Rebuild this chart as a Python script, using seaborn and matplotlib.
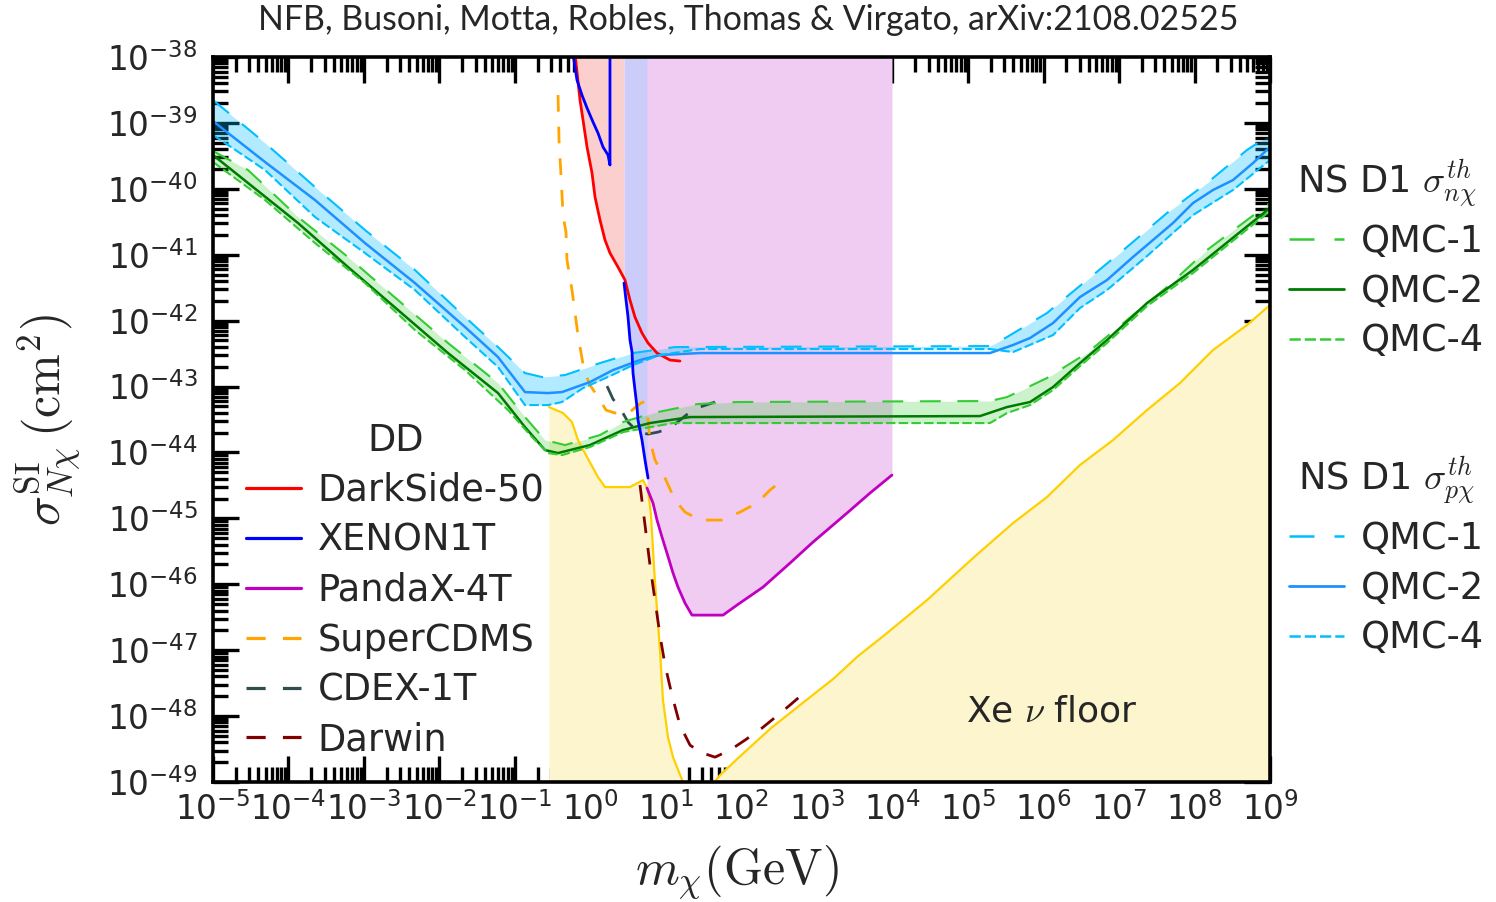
import numpy as np
import matplotlib
matplotlib.use("Agg")
import matplotlib.pyplot as plt
import seaborn as sns
from matplotlib.lines import Line2D
from matplotlib.ticker import LogLocator, FixedLocator, NullFormatter

# ---------------- data (log10 m [GeV], log10 sigma [cm^2]) ----------------
darkside_logm = [-0.205, -0.139, -0.099, -0.046, 0.020, 0.060, 0.126, 0.192, 0.258, 0.364,
                 0.457, 0.523, 0.589, 0.682, 0.762, 0.881, 1.053, 1.185]
darkside_logs = [-37.95, -38.653, -38.956, -39.366, -39.760, -40.125, -40.474, -40.777, -40.974, -41.187,
                 -41.384, -41.688, -41.946, -42.188, -42.340, -42.492, -42.598, -42.613]

xenon_logm = [0.444, 0.497, 0.523, 0.550, 0.563, 0.589, 0.616, 0.629, 0.682, 0.722, 0.762]
xenon_logs = [-41.430, -41.946, -42.295, -42.477, -42.795, -43.053, -43.311, -43.509, -43.812, -44.115, -44.389]

xenon_low_logm = [-0.232, -0.179, -0.113, -0.046, 0.033, 0.099, 0.166, 0.232, 0.258, 0.258]
xenon_low_logs = [-37.95, -38.349, -38.577, -38.774, -38.986, -39.153, -39.366, -39.487, -39.639, -37.95]

pandax_logm = [0.748, 0.828, 0.881, 0.947, 1.013, 1.093, 1.159, 1.252, 1.344, 1.755, 1.940, 2.285,
               2.642, 2.947, 3.397, 3.702, 3.993]
pandax_logs = [-44.540, -44.768, -45.026, -45.284, -45.527, -45.830, -46.043, -46.286, -46.468, -46.468,
               -46.316, -46.043, -45.679, -45.360, -44.920, -44.616, -44.343]

supercdms_logm = [-0.430, -0.417, -0.391, -0.364, -0.325, -0.311, -0.245, -0.166, -0.086, -0.007, 0.126,
                  0.205, 0.324, 0.523, 0.629, 0.695, 0.748, 0.788, 0.854, 0.987, 1.119, 1.252, 1.450,
                  1.742, 1.980, 2.205, 2.377, 2.576]
supercdms_logs = [-38.577, -39.260, -39.791, -40.398, -40.656, -41.081, -41.536, -42.219, -42.750, -42.977,
                  -43.205, -43.357, -43.402, -43.387, -43.281, -43.235, -43.357, -43.812, -44.115, -44.389,
                  -44.723, -44.905, -45.026, -45.026, -44.905, -44.768, -44.571, -44.389]

cdex_logm = [0.219, 0.298, 0.391, 0.497, 0.629, 0.762, 0.894, 1.053, 1.185, 1.318, 1.450, 1.649]
cdex_logs = [-42.993, -43.190, -43.326, -43.539, -43.691, -43.721, -43.691, -43.630, -43.509, -43.387,
             -43.311, -43.235]

darwin_logm = [0.656, 0.722, 0.788, 0.854, 0.920, 0.987, 1.079, 1.185, 1.318, 1.450, 1.649, 1.848,
               2.046, 2.271, 2.483, 2.642, 2.841]
darwin_logs = [-44.495, -45.102, -45.709, -46.240, -46.771, -47.226, -47.682, -48.137, -48.440, -48.547,
               -48.623, -48.516, -48.365, -48.182, -47.985, -47.833, -47.636]

floor_logm = [-0.550, -0.364, -0.245, -0.166, -0.046, 0.099, 0.192, 0.523, 0.695, 0.762, 0.801, 0.841,
              0.881, 0.920, 0.960, 1.026, 1.093, 1.225, 1.450, 1.715, 1.954, 2.391, 2.775, 3.212, 3.543,
              3.927, 4.457, 5.066, 5.596, 6.046, 6.483, 6.921, 7.371, 7.808, 8.245, 8.695, 9.0]
floor_logs = [-43.311, -43.402, -43.539, -43.812, -44.070, -44.374, -44.525, -44.525, -44.419, -44.571,
              -44.950, -45.739, -46.392, -46.998, -47.758, -48.319, -48.623, -49.002, -49.275, -48.896,
              -48.638, -48.182, -47.833, -47.439, -47.090, -46.741, -46.240, -45.603, -45.072, -44.677,
              -44.191, -43.812, -43.357, -42.947, -42.446, -42.067, -41.763]

# NS D1, neutron (sigma_n chi^th)
n1_logm = [-5.0, -4.536, -3.874, -3.212, -2.550, -1.887, -1.225, -0.868, -0.603, -0.338, 0.126, 0.430,
           0.828, 1.411, 1.940, 5.291, 5.517, 6.046, 6.576, 7.106, 7.636, 8.166, 8.695, 9.0]
n1_logs = [-39.426, -39.715, -40.428, -41.035, -41.688, -42.340, -42.947, -43.463, -43.812, -43.888,
           -43.736, -43.539, -43.402, -43.266, -43.235, -43.220, -43.160, -42.871, -42.492, -41.991,
           -41.490, -40.929, -40.474, -40.216]
n2_logm = [-5.0, -4.536, -3.874, -3.212, -2.550, -1.887, -1.225, -0.868, -0.603, -0.430, -0.007, 0.430,
           0.788, 1.318, 5.159, 5.517, 5.821, 6.126, 6.483, 6.841, 7.371, 7.980, 8.603, 9.0]
n2_logs = [-39.487, -39.912, -40.519, -41.187, -41.839, -42.492, -43.099, -43.615, -43.964, -44.009,
           -43.888, -43.660, -43.554, -43.463, -43.448, -43.311, -43.235, -43.008, -42.644, -42.295,
           -41.733, -41.232, -40.656, -40.291]
n4_logm = [-5.0, -4.801, -4.311, -3.649, -2.987, -2.325, -1.662, -1.093, -0.775, -0.563, -0.378, -0.007,
           0.430, 1.093, 5.291, 5.517, 5.821, 6.126, 6.483, 6.841, 7.371, 7.980, 8.603, 9.0]
n4_logs = [-39.593, -39.760, -40.170, -40.823, -41.430, -42.143, -42.750, -43.357, -43.767, -44.009,
           -44.040, -43.918, -43.691, -43.554, -43.554, -43.402, -43.281, -43.053, -42.689, -42.340,
           -41.779, -41.278, -40.701, -40.337]

# NS D1, proton (sigma_p chi^th)
p1_logm = [-5.0, -4.311, -3.649, -2.987, -2.325, -1.662, -1.225, -0.868, -0.642, -0.338, 0.126, 0.563,
           1.119, 5.291, 5.517, 6.046, 6.576, 7.106, 7.636, 8.166, 8.695, 9.0]
p1_logs = [-38.653, -39.305, -39.973, -40.625, -41.232, -41.946, -42.401, -42.795, -42.856, -42.826,
           -42.644, -42.492, -42.401, -42.386, -42.249, -41.885, -41.384, -40.883, -40.367, -39.912,
           -39.411, -39.184]
p2_logm = [-5.0, -4.801, -4.311, -3.649, -2.987, -2.325, -1.662, -1.225, -0.868, -0.563, -0.378, -0.007,
           0.298, 0.656, 0.920, 1.450, 5.291, 5.596, 5.821, 6.126, 6.483, 6.841, 7.185, 7.450, 7.715,
           7.980, 8.245, 8.510, 8.775, 9.0]
p2_logs = [-38.971, -39.153, -39.593, -40.170, -40.823, -41.430, -42.097, -42.553, -43.084, -43.099,
           -43.084, -42.932, -42.750, -42.598, -42.522, -42.492, -42.492, -42.370, -42.264, -42.037,
           -41.642, -41.384, -41.035, -40.777, -40.519, -40.216, -40.018, -39.867, -39.609, -39.366]
p4_logm = [-5.0, -4.801, -4.311, -3.649, -2.987, -2.325, -1.662, -1.225, -0.868, -0.563, -0.378, -0.099,
           0.258, 0.563, 0.920, 1.450, 5.291, 5.596, 6.126, 6.483, 6.841, 7.371, 7.980, 8.510, 9.0]
p4_logs = [-39.184, -39.335, -39.715, -40.428, -40.974, -41.536, -42.249, -42.704, -43.281, -43.281,
           -43.235, -43.023, -42.841, -42.674, -42.522, -42.431, -42.431, -42.477, -42.219, -41.809,
           -41.536, -41.020, -40.398, -40.018, -39.563]

dd_labels = ["DarkSide-50", "XENON1T", "PandaX-4T", "SuperCDMS", "CDEX-1T", "Darwin"]
qmc_labels = ["QMC-1", "QMC-2", "QMC-4"]
xtick_exps = list(range(-5, 10))
ytick_exps = list(range(-49, -37))

# ---------------- style ----------------
sns.set_theme(style="ticks")
plt.rcParams["font.family"] = ["DejaVu Sans"]
plt.rcParams["mathtext.fontset"] = "dejavusans"
plt.rcParams["axes.edgecolor"] = "black"

C_RED, C_BLUE, C_MAG = "#FF0000", "#0000FF", "#C000C0"
C_ORANGE, C_SLATE, C_DRED = "#FFA500", "#2F4F4F", "#800000"
C_LIME, C_DGREEN = "#32CD32", "#007A00"
C_SKY, C_DODGER = "#00BFFF", "#1E90FF"
DASH_DD = (0, (6.0, 5.4))
DASH_Q1 = (0, (10, 8))
DASH_Q4 = (0, (4.5, 1.6))

fig = plt.figure(figsize=(14.96, 9.02), dpi=100)
ax = fig.add_axes([213 / 1496, 120 / 902, 1057 / 1496, 725 / 902])
ax.set_xscale("log")
ax.set_yscale("log")
ax.set_xlim(1e-5, 1e9)
ax.set_ylim(1e-49, 1e-38)

P = lambda a: 10.0 ** np.asarray(a, dtype=float)
TOP = 1e-38

# neutrino floor
ax.fill_between(P(floor_logm), P(floor_logs), 1e-55, color="#FDF5CE", lw=0, zorder=1)

# exclusion fills
dsx, dsy = np.array(darkside_logm), np.array(darkside_logs)
edge = xenon_logm[0]
m = dsx < edge
fx = np.append(dsx[m], edge)
fy = np.append(dsy[m], np.interp(edge, dsx, dsy))
ax.fill_between(P(fx), P(fy), TOP, color="#FCCFCF", lw=0, zorder=1.2)
ax.fill_between(P(xenon_logm), P(xenon_logs), TOP, color="#CCCCFB", lw=0, zorder=1.2)
ax.fill_between(P(pandax_logm), P(pandax_logs), TOP, color="#F0CCF2", lw=0, zorder=1.2)


def band(xa, ya, xb, yb, color, alpha):
    grid = np.union1d(xa, xb)
    ua = np.interp(grid, xa, ya)
    ub = np.interp(grid, xb, yb)
    ax.fill_between(P(grid), P(ua), P(ub), color=color, alpha=alpha, lw=0, zorder=2)


band(n1_logm, n1_logs, n4_logm, n4_logs, C_LIME, 0.25)
band(p1_logm, p1_logs, p4_logm, p4_logs, C_SKY, 0.30)


def line(xl, yl, color, ls="-", lw=1.6, z=4):
    sns.lineplot(x=P(xl), y=P(yl), ax=ax, color=color, linestyle=ls, lw=lw,
                 estimator=None, sort=False, legend=False, zorder=z)


# floor line
line(floor_logm, floor_logs, "#FFD000", "-", 1.6, 3)

# DD experiments below the NS curves
line(cdex_logm, cdex_logs, C_SLATE, DASH_DD, 2.0, 3.5)
line(supercdms_logm, supercdms_logs, C_ORANGE, DASH_DD, 2.0, 3.6)
line(darwin_logm, darwin_logs, C_DRED, DASH_DD, 2.0, 3.6)

# NS D1 curves
line(n1_logm, n1_logs, C_LIME, DASH_Q1, 1.5, 5)
line(n2_logm, n2_logs, C_DGREEN, "-", 1.8, 5)
line(n4_logm, n4_logs, C_LIME, DASH_Q4, 1.5, 5)
line(p1_logm, p1_logs, C_SKY, DASH_Q1, 1.5, 5)
line(p2_logm, p2_logs, C_DODGER, "-", 1.8, 5)
line(p4_logm, p4_logs, C_SKY, DASH_Q4, 1.5, 5)

# DD solid limits
line(darkside_logm, darkside_logs, C_RED, "-", 2.0, 4.5)
line(xenon_low_logm, xenon_low_logs, C_BLUE, "-", 2.0, 6)
line(xenon_logm, xenon_logs, C_BLUE, "-", 2.0, 6)
line(pandax_logm, pandax_logs, C_MAG, "-", 2.0, 6)

# ---------------- axes cosmetics ----------------
ax.xaxis.set_major_locator(FixedLocator(P(xtick_exps)))
ax.xaxis.set_minor_locator(LogLocator(base=10, subs=np.arange(2, 10), numticks=200))
ax.xaxis.set_minor_formatter(NullFormatter())
ax.set_xticklabels([rf"$10^{{{e}}}$" for e in xtick_exps])
ax.yaxis.set_major_locator(FixedLocator(P(ytick_exps)))
ax.yaxis.set_minor_locator(LogLocator(base=10, subs=np.arange(2, 10), numticks=200))
ax.yaxis.set_minor_formatter(NullFormatter())
ax.set_yticklabels([rf"$10^{{{e}}}$" for e in ytick_exps])
ax.set_xlim(1e-5, 1e9)
ax.set_ylim(1e-49, 1e-38)

ax.tick_params(which="both", direction="in", top=True, right=True, width=2.4, color="black")
ax.tick_params(which="major", length=19, labelsize=23.5)
ax.tick_params(which="minor", length=10.5)
ax.tick_params(axis="x", which="major", pad=7)
ax.tick_params(axis="y", which="major", pad=11)
for s in ax.spines.values():
    s.set_linewidth(2.6)
    s.set_zorder(10)

# labels
fig.text(0.5, 1 - 20 / 902, "NFB, Busoni, Motta, Robles, Thomas & Virgato, arXiv:2108.02525",
         ha="center", va="center", fontsize=24.4, family=["Lato", "DejaVu Sans"])
fig.text(737 / 1496, 1 - 872 / 902, r"$m_\chi(\mathrm{GeV})$", ha="center", va="center",
         fontsize=36, math_fontfamily="cm")
fig.text(48 / 1496, 1 - 420 / 902, r"$\sigma^{\rm SI}_{N\chi}\,(\mathrm{cm}^2)$", ha="center",
         va="center", rotation=90, fontsize=36, math_fontfamily="cm")
ax.text((1052 - 213) / 1057, (782 - 711) / 725, r"Xe $\nu$ floor", transform=ax.transAxes,
        ha="center", va="center", fontsize=26, math_fontfamily="cm", zorder=7)

# legends
dd_colors = [C_RED, C_BLUE, C_MAG, C_ORANGE, C_SLATE, C_DRED]
dd_styles = ["-", "-", "-", DASH_DD, DASH_DD, DASH_DD]
dd_handles = [Line2D([], [], color=c, lw=2.3, linestyle=s) for c, s in zip(dd_colors, dd_styles)]
leg_kw = dict(frameon=False, fontsize=26.5, title_fontsize=26.5, handlelength=1.5,
              handletextpad=0.45, labelspacing=0.35, borderpad=0, borderaxespad=0)
leg1 = ax.legend(dd_handles, dd_labels, title="DD", loc="upper left",
                 bbox_to_anchor=((246 - 213) / 1057, (782 - 422) / 725), **leg_kw)
leg1.set_zorder(12)

n_handles = [Line2D([], [], color=C_LIME, lw=1.8, linestyle=DASH_Q1),
             Line2D([], [], color=C_DGREEN, lw=2.0, linestyle="-"),
             Line2D([], [], color=C_LIME, lw=1.8, linestyle=DASH_Q4)]
p_handles = [Line2D([], [], color=C_SKY, lw=1.8, linestyle=DASH_Q1),
             Line2D([], [], color=C_DODGER, lw=2.0, linestyle="-"),
             Line2D([], [], color=C_SKY, lw=1.8, linestyle=DASH_Q4)]
leg2 = fig.legend(n_handles, qmc_labels, title=r"NS D1 $\sigma^{th}_{n\chi}$", loc="upper left",
                  bbox_to_anchor=(1289 / 1496, 1 - 157 / 902), **leg_kw)
leg2.get_title().set_math_fontfamily("cm")
leg3 = fig.legend(p_handles, qmc_labels, title=r"NS D1 $\sigma^{th}_{p\chi}$", loc="upper left",
                  bbox_to_anchor=(1289 / 1496, 1 - 454 / 902), **leg_kw)
leg3.get_title().set_math_fontfamily("cm")

fig.savefig("out.png", dpi=100)
